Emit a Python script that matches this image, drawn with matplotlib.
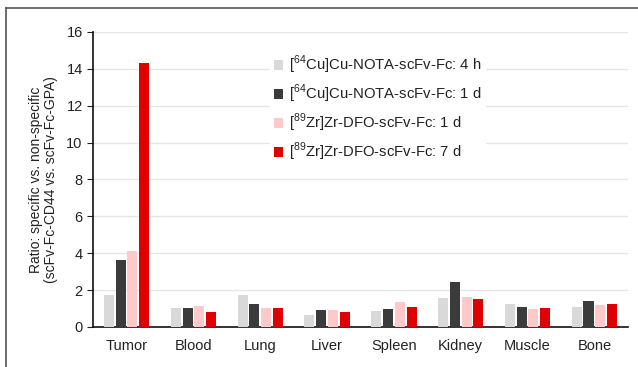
import numpy as np
import matplotlib
matplotlib.use("Agg")
import matplotlib.pyplot as plt
from matplotlib.lines import Line2D

organs = ["Tumor", "Blood", "Lung", "Liver", "Spleen", "Kidney", "Muscle", "Bone"]
series_labels = [
    "[$^{64}$Cu]Cu-NOTA-scFv-Fc: 4 h",
    "[$^{64}$Cu]Cu-NOTA-scFv-Fc: 1 d",
    "[$^{89}$Zr]Zr-DFO-scFv-Fc: 1 d",
    "[$^{89}$Zr]Zr-DFO-scFv-Fc: 7 d",
]
cu_4h = [1.72, 1.03, 1.74, 0.67, 0.89, 1.58, 1.27, 1.11]
cu_1d = [3.65, 1.05, 1.23, 0.91, 0.98, 2.45, 1.11, 1.41]
zr_1d = [4.10, 1.12, 1.03, 0.91, 1.34, 1.65, 0.98, 1.20]
zr_7d = [14.30, 0.81, 1.03, 0.80, 1.09, 1.50, 1.03, 1.27]
yticks = [0, 2, 4, 6, 8, 10, 12, 14, 16]

plt.rcParams["font.family"] = ["Liberation Sans", "DejaVu Sans"]
plt.rcParams["mathtext.fontset"] = "custom"
plt.rcParams["mathtext.rm"] = "Liberation Sans"

colors = ["#d9d9d9", "#3b3b3b", "#ffc9c9", "#e00000"]

fig = plt.figure(figsize=(6.38, 3.67), dpi=100)
ax = fig.add_axes([0.146, 0.109, 0.838, 0.804])

x = np.arange(len(organs))
width = 0.15
step = 0.176
for i, (vals, lab) in enumerate(zip([cu_4h, cu_1d, zr_1d, zr_7d], series_labels)):
    ax.bar(x + (i - 1.5) * step, vals, width, color=colors[i], label=lab, zorder=3)

ax.set_xlim(-0.5, len(organs) - 0.5)
ax.set_ylim(0, 16)
ax.set_yticks(yticks)
ax.set_xticks(x, organs)
ax.tick_params(axis="x", length=0, labelsize=10.5, pad=9, colors="#222222")
ax.tick_params(axis="y", length=4, direction="out", labelsize=10.5, colors="#222222")
ax.yaxis.grid(True, color="#e6e6e6", linewidth=1, zorder=0)
ax.set_axisbelow(True)
for s in ["top", "right"]:
    ax.spines[s].set_visible(False)
ax.spines["left"].set_color("#111111")
ax.spines["bottom"].set_color("#111111")
ax.spines["left"].set_linewidth(1.2)
ax.spines["bottom"].set_linewidth(1.2)
ax.set_ylabel("Ratio: specific vs. non-specific\n(scFv-Fc-CD44 vs. scFv-Fc-GPA)",
              fontsize=10, color="#222222", labelpad=6, linespacing=1.1)

leg = ax.legend(loc="upper left", bbox_to_anchor=(0.33, 0.94), frameon=True,
                framealpha=1, edgecolor="none", fontsize=10.7, handlelength=0.6,
                handleheight=0.6, handletextpad=0.4, labelspacing=0.45,
                borderpad=0.3, borderaxespad=0)
for t in leg.get_texts():
    t.set_color("#222222")

# outer frame (top and left edges visible)
fig.add_artist(Line2D([6 / 638, 1], [1 - 8 / 367, 1 - 8 / 367], color="#555555", linewidth=1.2))
fig.add_artist(Line2D([6 / 638, 6 / 638], [0, 1 - 8 / 367], color="#555555", linewidth=1.2))

fig.savefig("out.png", dpi=100)
